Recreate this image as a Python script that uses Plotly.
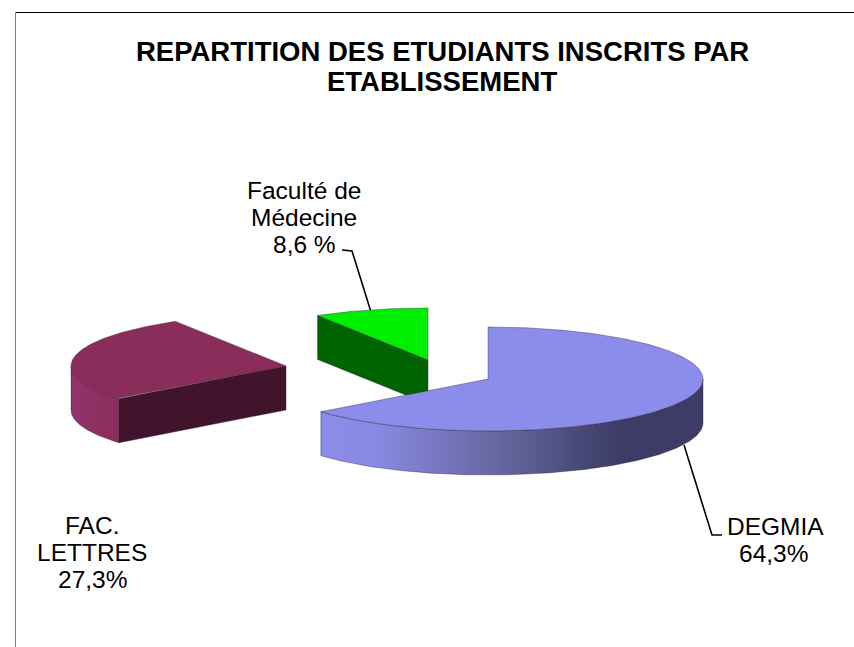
import numpy as np
import plotly.graph_objects as go

# Data
categories = ["DEGMIA", "FAC. LETTRES", "Faculté de Médecine"]
shares = [64.3, 27.3, 8.6]
label_lines = [["DEGMIA", "64,3%"], ["FAC.", "LETTRES", "27,3%"], ["Faculté de", "Médecine", "8,6 %"]]
title_lines = ["REPARTITION DES ETUDIANTS INSCRITS PAR", "ETABLISSEMENT"]

# Styles
top_colors = ["#8C8CEA", "#8B2D5B", "#00EE00"]
face_colors = ["#3C3C66", "#42142C", "#006400"]
wall_scales = [
    [[0, "#8C8CEA"], [0.14, "#8A8AE4"], [0.47, "#66669F"], [0.78, "#3C3C66"], [1, "#3C3C66"]],
    [[0, "#90346A"], [1, "#8B2D5B"]],
    [[0, "#00EE00"], [1, "#00EE00"]],
]
centres = [(488, 379), (286, 366), (428, 360)]   # exploded pie positions, px
RX, RY, DEPTH = 215, 52, 44
EDGE = dict(color="rgba(40,30,50,0.55)", width=0.7)

fig = go.Figure()


def poly(xs, ys, **kw):
    fig.add_trace(go.Scatter(x=xs, y=ys, mode="lines", fill="toself", line=EDGE,
                             hoverinfo="skip", showlegend=False, **kw))


def rim(cx, cy, a, b, dz=0):
    t = np.radians(np.linspace(a, b, max(int(abs(b - a) * 2), 2)))
    return cx + RX * np.sin(t), cy - RY * np.cos(t) + dz


# Leader lines (behind the slices)
for lx, ly in [([342, 352, 371], [250, 251, 312]), ([684, 712, 722], [445, 535, 535])]:
    fig.add_trace(go.Scatter(x=lx, y=ly, mode="lines", line=dict(color="black", width=1.6),
                             hoverinfo="skip", showlegend=False))

angles = np.cumsum([0] + shares) / sum(shares) * 360
for i in [2, 1, 0]:
    s, e = angles[i], angles[i + 1]
    cx, cy = centres[i]
    # start-side cut face
    if np.sin(np.radians(s)) < 0:
        rx, ry = rim(cx, cy, s, s)
        poly([cx, rx[0], rx[0], cx, cx], [cy, ry[0], ry[0] + DEPTH, cy + DEPTH, cy],
             fillcolor=face_colors[i])
    # front outer wall
    a, b = max(s, 90), min(e, 270)
    if b > a:
        tx, ty = rim(cx, cy, a, b)
        bx, by = rim(cx, cy, b, a, DEPTH)
        xs = np.r_[tx, bx, tx[0]]
        ys = np.r_[ty, by, ty[0]]
        poly(xs, ys, fillgradient=dict(type="horizontal", colorscale=wall_scales[i],
                                       start=float(xs.min()), stop=float(xs.max())))
    # top
    tx, ty = rim(cx, cy, s, e)
    poly(np.r_[cx, tx, cx], np.r_[cy, ty, cy], fillcolor=top_colors[i])

FONT = "Liberation Sans, Arial, sans-serif"


def text_at(x, y, text, size):
    return dict(x=x, y=y, text=text, font=dict(size=size, family=FONT, color="black"),
                xref="x", yref="y", showarrow=False, align="center",
                xanchor="center", yanchor="middle")


ann = [text_at(442, 51, "<b>" + title_lines[0] + "</b>", 27.5),
       text_at(442, 81, "<b>" + title_lines[1] + "</b>", 27.5)]
label_x = [(775, 773), (92, 92, 92), (304, 304, 304)]
label_y = [(526, 553), (525, 552, 579), (190, 217, 244)]
for lines, xs, ys in zip(label_lines, label_x, label_y):
    for t, x, y in zip(lines, xs, ys):
        ann.append(text_at(x, y, t, 24.5))

fig.update_layout(
    width=854, height=647, margin=dict(l=0, r=0, t=0, b=0), autosize=False,
    paper_bgcolor="white", plot_bgcolor="white", annotations=ann,
    xaxis=dict(range=[0, 854], visible=False, fixedrange=True),
    yaxis=dict(range=[647, 0], visible=False, fixedrange=True),
    shapes=[
        dict(type="line", x0=15.5, x1=854, y0=12.5, y1=12.5, xref="x", yref="y", line=dict(color="black", width=1)),
        dict(type="line", x0=15.5, x1=15.5, y0=12.5, y1=647, xref="x", yref="y", line=dict(color="#808080", width=1)),
    ],
)
fig.write_html("out.html", post_script="document.body.style.margin='0';document.body.style.overflow='hidden';",
               config={"displayModeBar": False})
